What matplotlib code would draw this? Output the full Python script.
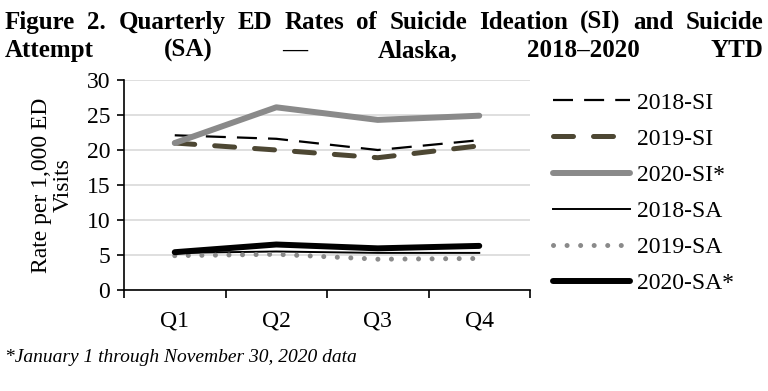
import matplotlib
matplotlib.use("Agg")
import matplotlib.pyplot as plt

quarters = ["Q1", "Q2", "Q3", "Q4"]
si_2018 = [22.1, 21.6, 20.0, 21.4]
si_2019 = [21.0, 20.0, 18.9, 20.6]
si_2020 = [21.0, 26.1, 24.3, 24.9]
sa_2018 = [5.3, 5.5, 5.3, 5.3]
sa_2019 = [4.9, 5.1, 4.4, 4.5]
sa_2020 = [5.4, 6.5, 5.95, 6.3]
yticks = [0, 5, 10, 15, 20, 25, 30]

title_line1 = "Figure 2. Quarterly ED Rates of Suicide Ideation (SI) and Suicide"
title_line2 = "Attempt (SA) \u2014 Alaska, 2018\u20132020 YTD"
footnote = "*January 1 through November 30, 2020 data"

plt.rcParams["font.family"] = ["Liberation Serif", "DejaVu Serif"]

fig = plt.figure(figsize=(7.68, 3.91), dpi=100)
ax = fig.add_axes([124 / 768, 1 - 290 / 391, 406 / 768, 210 / 391])

x = range(len(quarters))
ax.plot(x, si_2018, color="black", lw=1.6, dashes=(9, 5), label="2018-SI")
ax.plot(x, si_2019, color="#4d4733", lw=3.6, dashes=(4, 4),
        dash_capstyle="round", label="2019-SI")
ax.plot(x, si_2020, color="#8a8a8a", lw=4.3, solid_capstyle="round", label="2020-SI*")
ax.plot(x, sa_2018, color="black", lw=1.4, label="2018-SA")
ax.plot(x, sa_2019, color="#8a8a8a", lw=3.6, dashes=(0.01, 2.7),
        dash_capstyle="round", label="2019-SA")
ax.plot(x, sa_2020, color="black", lw=4.3, solid_capstyle="round", label="2020-SA*")

ax.set_xlim(-0.5, 3.5)
ax.set_ylim(0, 30)
ax.set_yticks(yticks)
ax.set_xticks([-0.5, 0.5, 1.5, 2.5, 3.5])
ax.set_xticklabels([])
ax.set_xticks(list(x), minor=True)
ax.set_xticklabels(quarters, minor=True, fontsize=17)
ax.tick_params(axis="x", which="minor", length=0, pad=15)
ax.tick_params(axis="x", which="major", length=6, width=1.2, direction="out")
ax.tick_params(axis="y", length=5, width=1.2, labelsize=17, pad=5)
ax.grid(axis="y", color="#d9d9d9", lw=1.2)
ax.set_axisbelow(True)
for s in ["top", "right"]:
    ax.spines[s].set_visible(False)
for s in ["left", "bottom"]:
    ax.spines[s].set_linewidth(1.2)
ax.set_ylabel("Rate per 1,000 ED\nVisits", fontsize=17, linespacing=1.05, labelpad=9)

ax.legend(loc="upper left", bbox_to_anchor=(553 / 768, 1 - 92 / 391),
          bbox_transform=fig.transFigure, frameon=False, fontsize=17,
          borderaxespad=0, borderpad=0,
          handlelength=3.25, handletextpad=0.3, labelspacing=0.62)

fig.text(5 / 768, 1 - 362 / 391, footnote, fontsize=14, style="italic",
         va="baseline", ha="left")


def justify(words, y, left, right, **kw):
    texts = [fig.text(0, y, w, va="baseline", ha="left", **kw) for w in words]
    fig.canvas.draw()
    r = fig.canvas.get_renderer()
    widths = [t.get_window_extent(r).width for t in texts]
    gap = (right - left - sum(widths)) / (len(words) - 1)
    pos = left
    for t, w in zip(texts, widths):
        t.set_x(pos / 768)
        pos += w + gap


tkw = dict(fontsize=18, fontweight="bold")
justify(title_line1.split(), 1 - 29 / 391, 5, 763, **tkw)
justify(title_line2.split(), 1 - 57 / 391, 5, 763, **tkw)

fig.savefig("out.png", dpi=100)
